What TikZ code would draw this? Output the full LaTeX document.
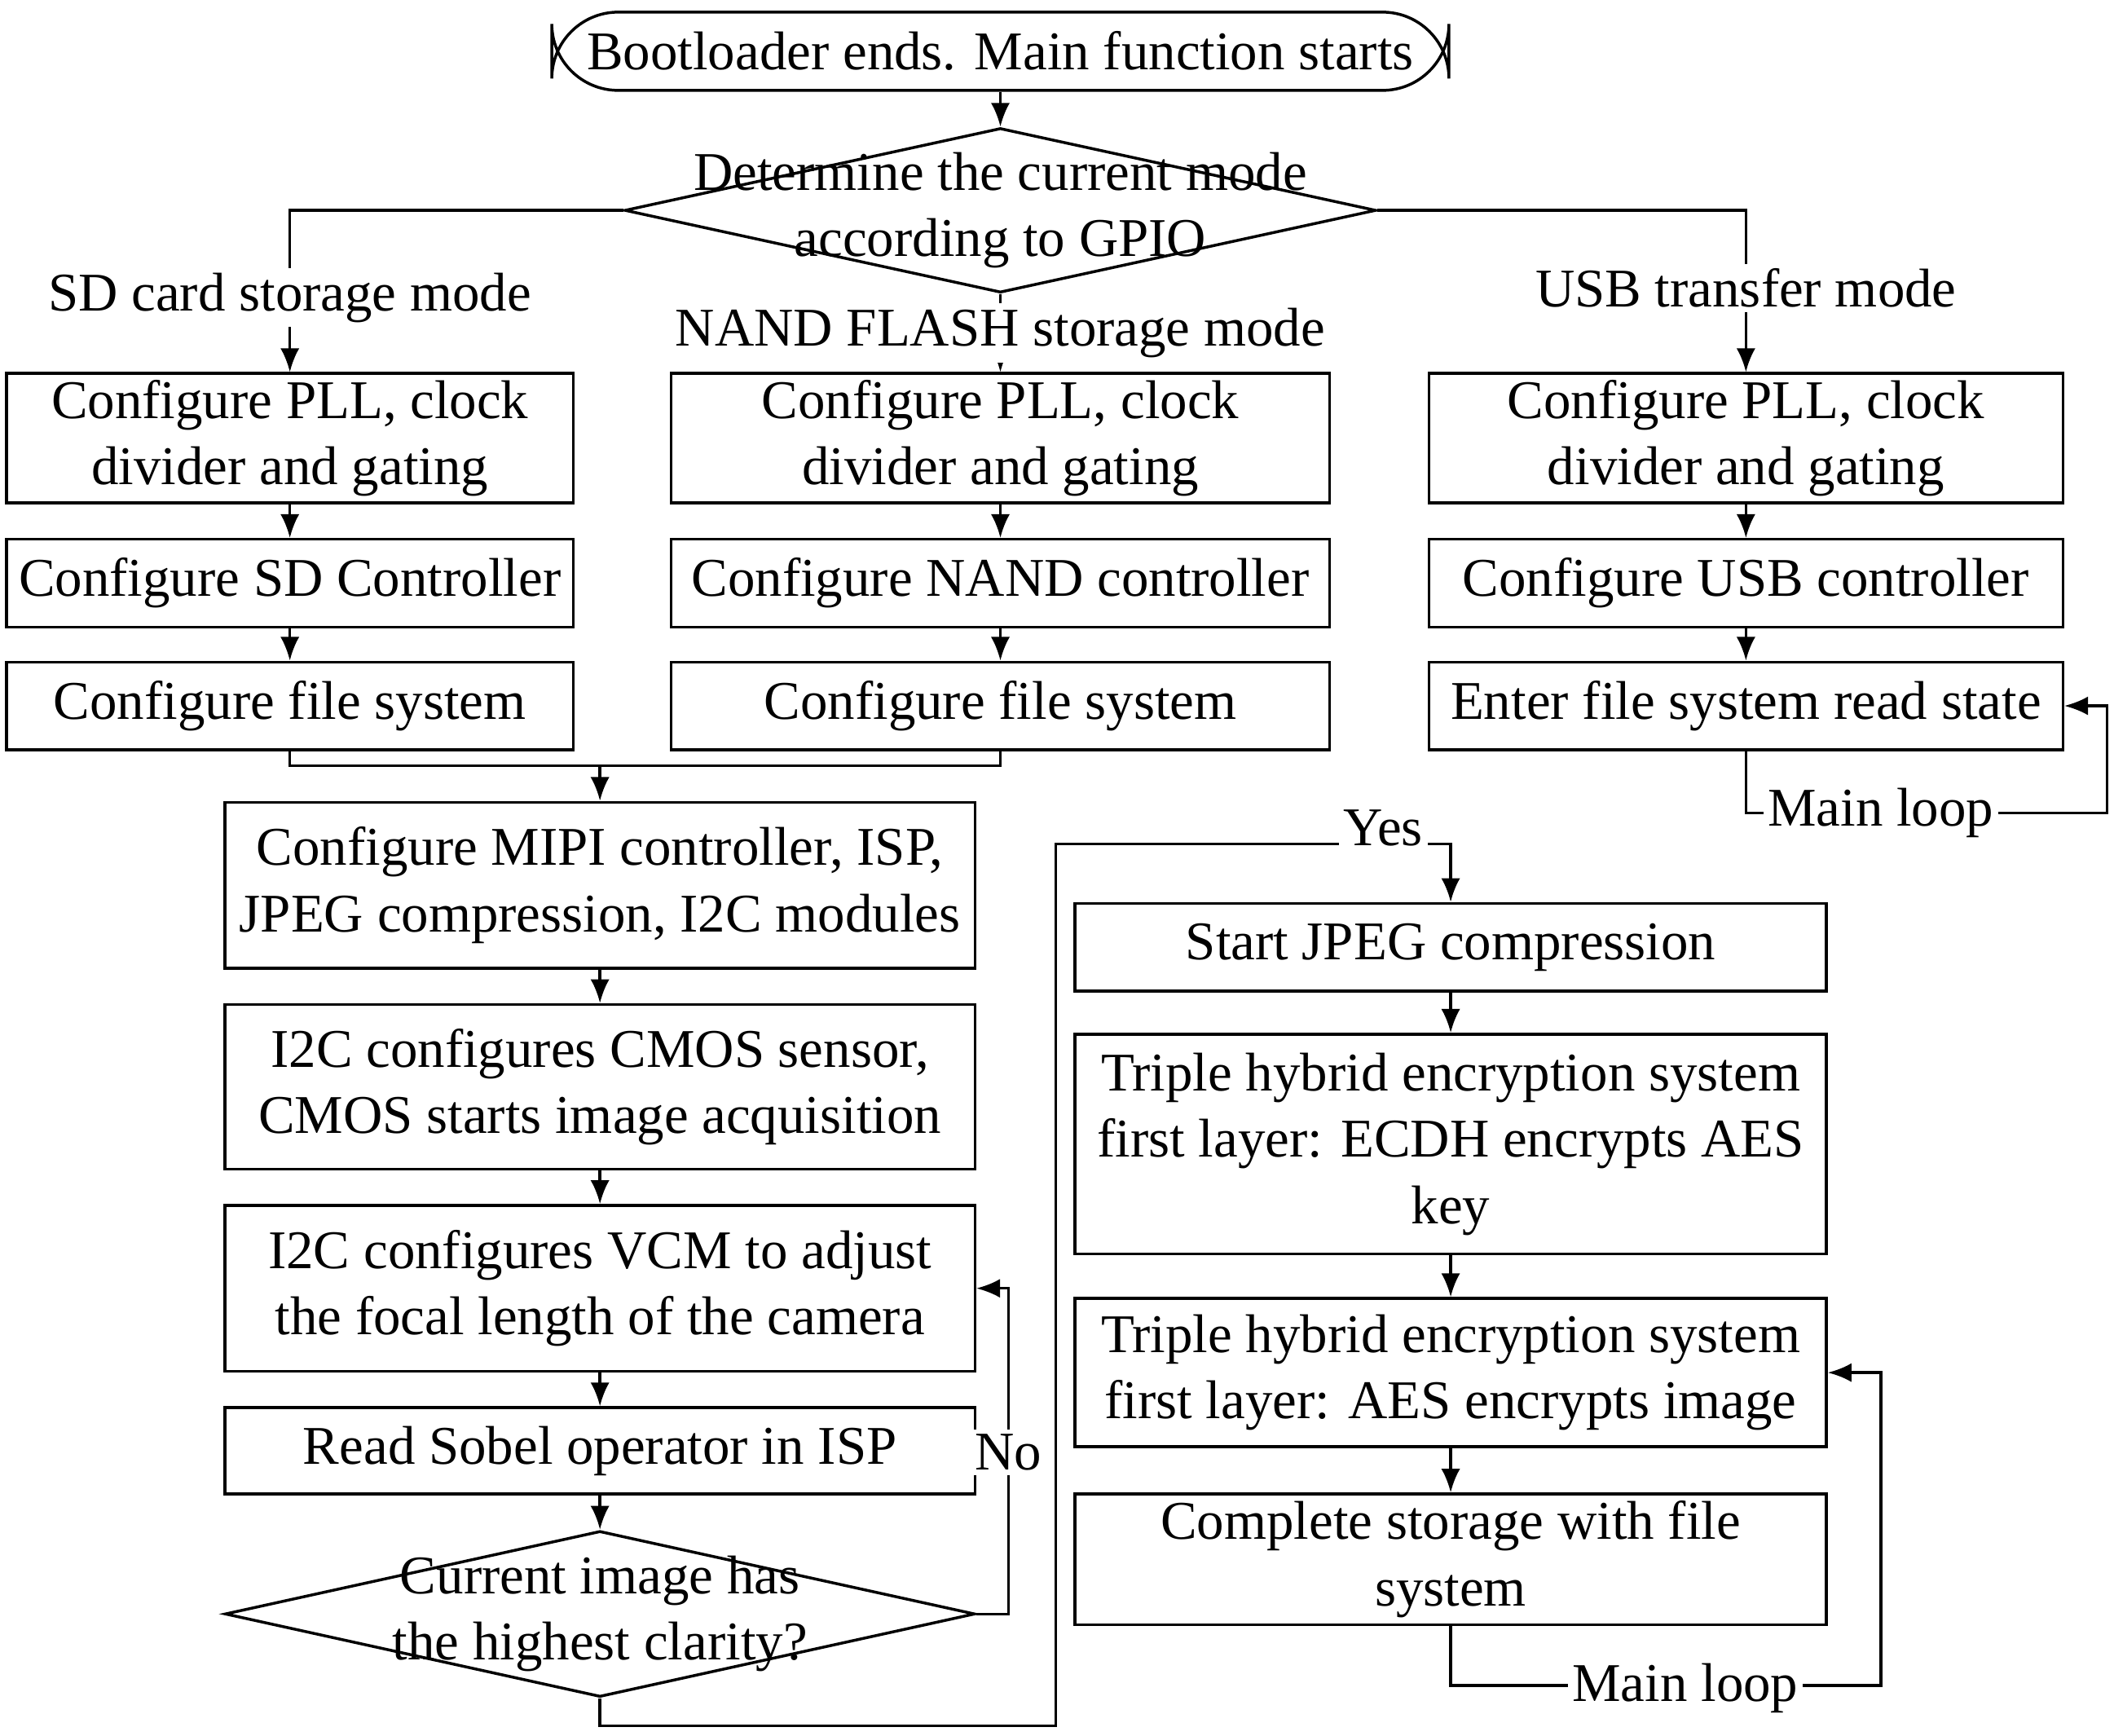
\documentclass[tikz,border=0pt]{standalone}
\usepackage{fontspec}
\setmainfont{Liberation Serif}
\usetikzlibrary{shapes.geometric,arrows.meta}
\begin{document}
\begin{tikzpicture}[x=0.01cm,y=-0.01cm,
  every node/.style={font=\fontsize{11.5}{14}\selectfont,align=center,inner sep=1pt},
  box/.style={draw,line width=0.6pt,rectangle},
  dia/.style={draw,line width=0.6pt,diamond,aspect=4.5,inner sep=0pt},
  lbl/.style={fill=white,inner sep=1pt},
  ln/.style={line width=0.6pt},
  ar/.style={line width=0.6pt,-{Latex[length=5pt,width=4pt]}}]
\useasboundingbox (0,0) rectangle (1568,1287);
\node[box,rounded corners=14pt,minimum width=6.65cm,minimum height=0.58cm] (s) at (742,38) {Bootloader ends. Main function starts};
\node[draw,line width=0.6pt,inner sep=0pt,minimum width=5.57cm,minimum height=1.22cm,diamond,aspect=4.56] (d1) at (742,156) {};
\node at (742,156) {Determine the current mode\\according to GPIO};
% columns
\foreach \n/\cx/\w in {a/215/4.2,b/742/4.88,c/1295/4.7}{
  \node[box,minimum width=\w cm,minimum height=0.96cm] (\n1) at (\cx,325) {};
  \node[box,minimum width=\w cm,minimum height=0.65cm] (\n2) at (\cx,432.5) {};
  \node[box,minimum width=\w cm,minimum height=0.65cm] (\n3) at (\cx,523.5) {};
}
\node at (a1) {Configure PLL, clock\\divider and gating};
\node at (b1) {Configure PLL, clock\\divider and gating};
\node at (c1) {Configure PLL, clock\\divider and gating};
\node at (a2) {Configure SD Controller};
\node at (b2) {Configure NAND controller};
\node at (c2) {Configure USB controller};
\node at (a3) {Configure file system};
\node at (b3) {Configure file system};
\node at (c3) {Enter file system read state};
% column 4
\node[box,minimum width=5.56cm,minimum height=1.23cm] (m1) at (445,656.5) {Configure MIPI controller, ISP,\\JPEG compression, I2C modules};
\node[box,minimum width=5.56cm,minimum height=1.22cm] (m2) at (445,806) {I2C configures CMOS sensor,\\CMOS starts image acquisition};
\node[box,minimum width=5.56cm,minimum height=1.23cm] (m3) at (445,955.5) {I2C configures VCM to adjust\\the focal length of the camera};
\node[box,minimum width=5.56cm,minimum height=0.64cm] (m4) at (445,1076) {Read Sobel operator in ISP};
\node[draw,line width=0.6pt,inner sep=0pt,minimum width=5.56cm,minimum height=1.23cm,diamond,aspect=4.52] (d2) at (445,1197) {};
\node at (445,1197) {Current image has\\the highest clarity?};
% column 5
\node[box,minimum width=5.57cm,minimum height=0.65cm] (r1) at (1076,702.5) {Start JPEG compression};
\node[box,minimum width=5.57cm,minimum height=1.63cm] (r2) at (1076,848.5) {Triple hybrid encryption system\\first layer: ECDH encrypts AES\\key};
\node[box,minimum width=5.57cm,minimum height=1.1cm] (r3) at (1076,1018) {Triple hybrid encryption system\\first layer: AES encrypts image};
\node[box,minimum width=5.57cm,minimum height=0.97cm] (r4) at (1076,1156.5) {Complete storage with file\\system};
% connectors top
\draw[ar] (s) -- (d1);
\draw[ar] (d1.west) -| (a1.north) node[lbl,pos=0.77] {SD card storage mode};
\draw[ar] (d1.east) -| (c1.north) node[lbl,pos=0.74] {USB transfer mode};
\draw[ar] (d1.south) -- (b1.north) node[lbl,midway] {NAND FLASH storage mode};
\foreach \n in {a,b,c}{
  \draw[ar] (\n1) -- (\n2);
  \draw[ar] (\n2) -- (\n3);}
\coordinate (mg) at (445,568);
\draw[ln] (a3.south) |- (mg) -| (b3.south);
\draw[ar] (mg) -- (m1);
\coordinate (ml1) at (1563,603);
\draw[ar] (c3.south) |- (ml1) |- (c3.east);
\node[lbl] at (1395,603) {Main loop};
\draw[ar] (m1) -- (m2);
\draw[ar] (m2) -- (m3);
\draw[ar] (m3) -- (m4);
\draw[ar] (m4) -- (d2);
\coordinate (no) at (748,1197);
\draw[ar] (d2.east) -- (no) |- (m3.east);
\node[lbl] at (748,1077) {No};
\coordinate (y1) at (445,1280);
\coordinate (y2) at (783,1280);
\coordinate (y3) at (783,626);
\draw[ar] (d2.south) -- (y1) -- (y2) -- (y3) -| (r1.north);
\node[lbl] at (1026,614) {Yes};
\draw[ar] (r1) -- (r2);
\draw[ar] (r2) -- (r3);
\draw[ar] (r3) -- (r4);
\coordinate (ml2) at (1395,1250);
\draw[ar] (r4.south) |- (ml2) |- (r3.east);
\node[lbl] at (1250,1252) {Main loop};
\end{tikzpicture}
\end{document}
